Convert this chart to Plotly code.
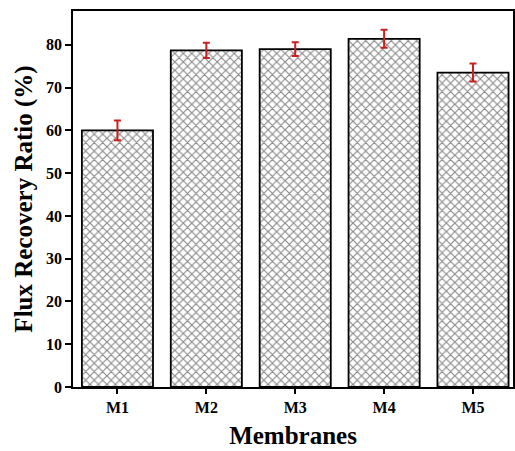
import plotly.graph_objects as go

membranes = ["M1", "M2", "M3", "M4", "M5"]
frr = [60.0, 78.7, 79.0, 81.4, 73.5]
frr_err = [2.3, 1.8, 1.6, 2.1, 2.1]
y_ticks = [0, 10, 20, 30, 40, 50, 60, 70, 80]

font_family = "Liberation Serif"

fig = go.Figure()
fig.add_trace(go.Bar(
    x=membranes,
    y=frr,
    width=0.8,
    marker=dict(
        color="white",
        line=dict(color="black", width=1.8),
        pattern=dict(shape="x", fgcolor="#111111", bgcolor="white", size=6, solidity=0.35),
    ),
    error_y=dict(type="data", array=frr_err, visible=True, color="#cc1f1f", thickness=2, width=3.5),
))

fig.update_layout(
    width=515, height=451,
    margin=dict(l=73, r=2, t=11, b=64),
    plot_bgcolor="white", paper_bgcolor="white",
    showlegend=False,
    font=dict(family=font_family, color="black"),
    xaxis=dict(
        range=[-0.5, 4.45],
        automargin=False,
        showline=True, linecolor="black", linewidth=1.5, mirror=True,
        ticks="outside", ticklen=5, tickwidth=1.5, tickcolor="black",
        tickfont=dict(family=font_family, size=16, color="black", weight="bold"),
        title=dict(text="<b>Membranes</b>", font=dict(family=font_family, size=25), standoff=12),
        showgrid=False,
    ),
    yaxis=dict(
        range=[0, 87.9],
        automargin=False,
        tickvals=y_ticks,
        showline=True, linecolor="black", linewidth=1.5, mirror=True,
        ticks="outside", ticklen=6, tickwidth=1.5, tickcolor="black",
        tickfont=dict(family=font_family, size=16, color="black", weight="bold"),
        title=dict(text="<b>Flux Recovery Ratio (%)</b>", font=dict(family=font_family, size=25), standoff=6),
        showgrid=False, zeroline=False,
    ),
)

fig.write_html("out.html", config={"displayModeBar": False},
               post_script="document.body.style.margin='0';")
